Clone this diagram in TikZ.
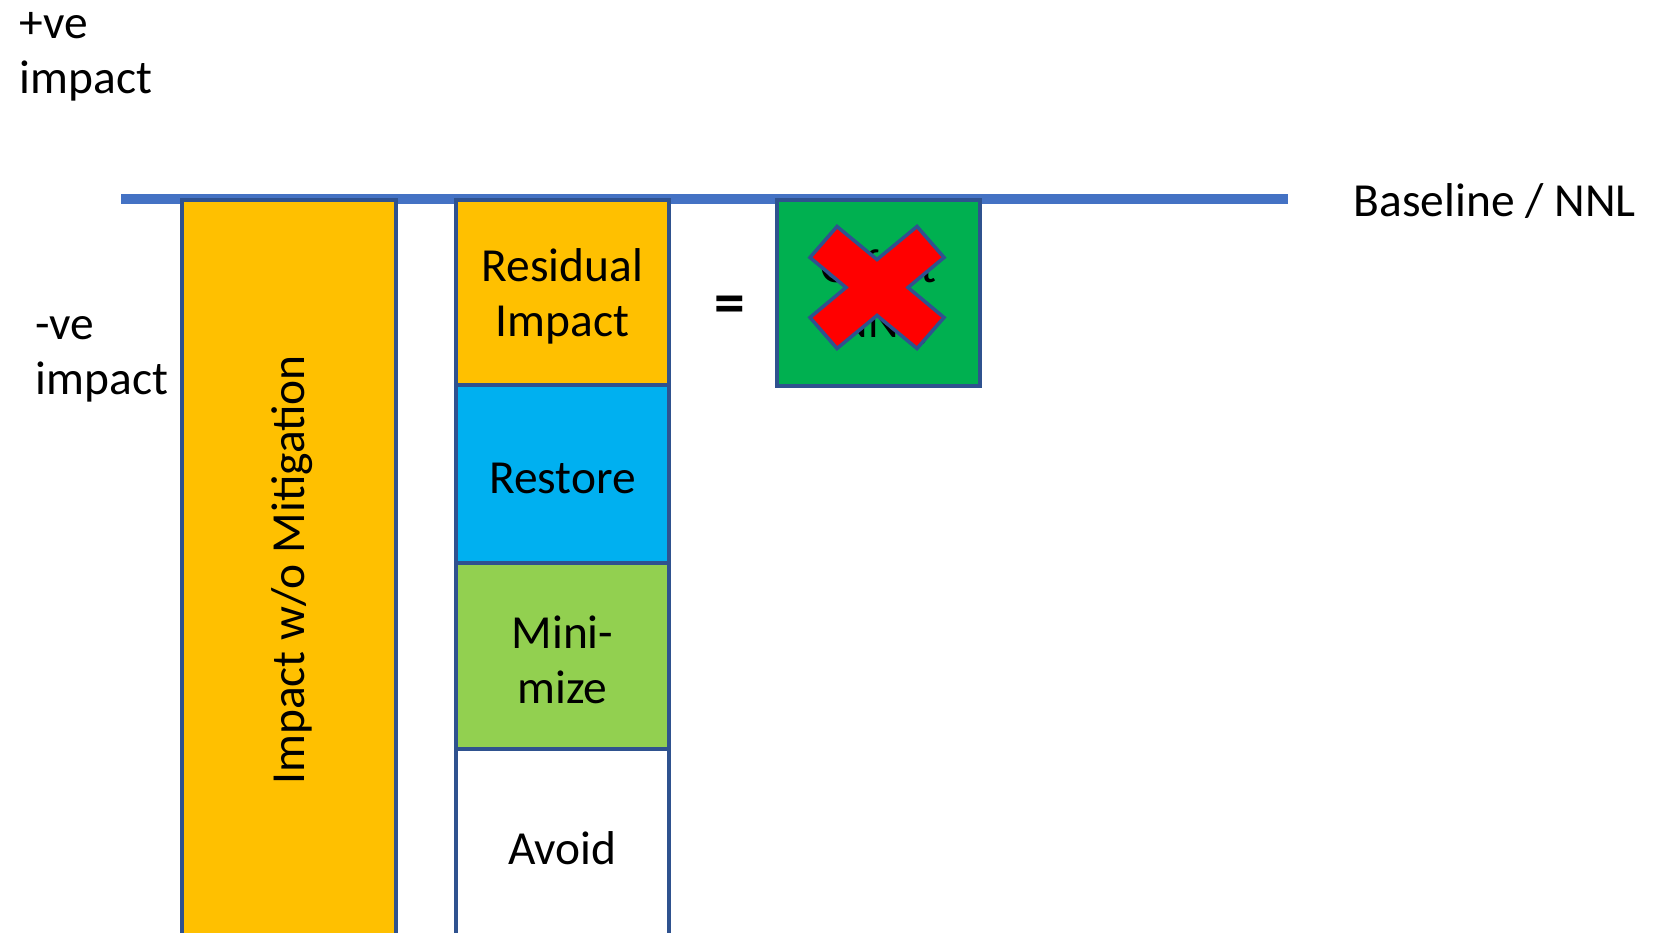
\documentclass[tikz,border=0pt]{standalone}
\usepackage{fontspec}
\setmainfont{Carlito}
\usepackage{xcolor}
\usetikzlibrary{positioning}

\definecolor{lineblue}{HTML}{4472C4}
\definecolor{edgeblue}{HTML}{2F528F}
\definecolor{impactyellow}{HTML}{FFC000}
\definecolor{restoreblue}{HTML}{00B0F0}
\definecolor{minigreen}{HTML}{92D050}
\definecolor{offsetgreen}{HTML}{00B050}
\definecolor{crossred}{HTML}{FF0000}

\begin{document}
\begin{tikzpicture}[
        box/.style={rectangle, draw=edgeblue, line width=1pt, inner sep=0pt, outer sep=0pt,
            minimum width=2.13cm},
        txt/.style={inner sep=0pt, align=left, font=\fontsize{13.5}{15.6}\selectfont},
        boxtext/.style={label={[txt, align=center, yshift=-0.04cm]center:#1}}]
        \clip (0,0) rectangle (16.55,-9.33);

        \node[txt, anchor=west] (pos) at (0.19,-0.57) {+ve\\impact};
        \node[txt, anchor=west] (neg) at (0.35,-3.59) {-ve\\impact};

        \coordinate (base west) at (1.21,-1.99);
        \coordinate (base east) at (12.88,-1.99);
        \draw[lineblue, line width=3.1pt] (base west) -- (base east);
        \node[txt, anchor=west, right=0.65cm of base east, yshift=-0.02cm] (nnl) {Baseline / NNL};

        \node[box, fill=impactyellow, minimum width=2.14cm, minimum height=7.40cm] (nomit) at (2.89,-5.70) {};
        \node[txt, rotate=90] (nomit text) at (2.92,-5.70) {Impact w/o Mitigation};

        \node[box, fill=impactyellow, minimum height=1.85cm, boxtext={Residual\\Impact}] (resid) at (5.625,-2.925) {};
        \node[box, fill=restoreblue, minimum height=1.78cm, below=0pt of resid, boxtext=Restore] (restore) {};
        \node[box, fill=minigreen, minimum height=1.86cm, below=0pt of restore, boxtext={Mini-\\mize}] (mini) {};
        \node[box, fill=white, minimum height=1.90cm, below=0pt of mini, boxtext=Avoid] (avoid) {};

        \node[inner sep=0pt, font=\fontsize{17.5}{20}\selectfont\bfseries] (eq) at (7.30,-3.10) {=};

        \node[box, fill=offsetgreen, minimum width=2.03cm, minimum height=1.86cm, boxtext={Offset\\(NNL)}] (offset) at (8.785,-2.93) {};

        % cross over the offset box
        \coordinate (cross) at (8.77,-2.875);
        \filldraw[fill=crossred, draw=edgeblue, line width=1pt, shift={(cross)}]
            (-0.67,0.30) -- (-0.40,0.61) -- (0,0.28) -- (0.40,0.61) -- (0.67,0.30) -- (0.31,0)
            -- (0.67,-0.30) -- (0.40,-0.61) -- (0,-0.28) -- (-0.40,-0.61) -- (-0.67,-0.30) -- (-0.31,0) -- cycle;
    \end{tikzpicture}
\end{document}
